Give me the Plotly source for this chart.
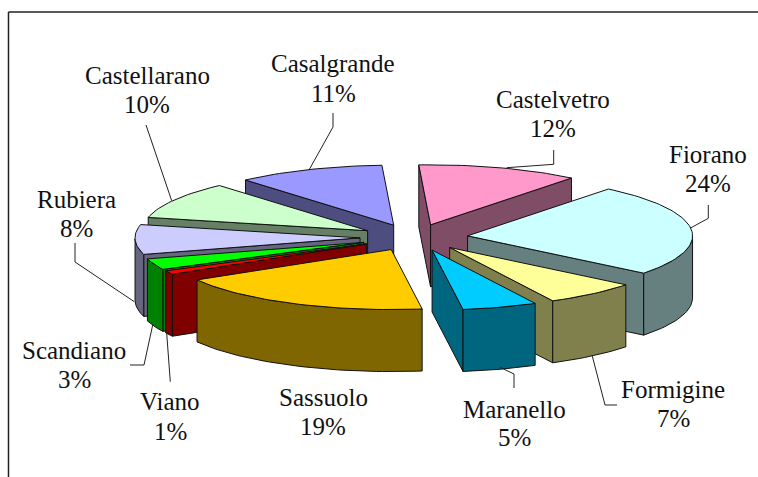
import math
import plotly.graph_objects as go

towns = ["Castelvetro", "Fiorano", "Formigine", "Maranello", "Sassuolo",
         "Viano", "Scandiano", "Rubiera", "Castellarano", "Casalgrande"]
shares = [11.6, 24.45, 6.6, 5.49, 19.25, 1.0, 3.0, 8.0, 10.0, 10.61]
top_colors = ["#FF99CC", "#CCFFFF", "#FFFF99", "#00CCFF", "#FFCC00",
              "#FF0000", "#00FF00", "#CCCCFF", "#CCFFCC", "#9999FF"]
side_colors = ["#804D66", "#667F7F", "#80804D", "#006680", "#806600",
               "#800000", "#008000", "#666680", "#668066", "#4D4D80"]

# label centres (x, name y, percent y)
label_pos = {
    "Castelvetro": (553, 100, 129), "Fiorano": (708, 155, 184),
    "Formigine": (673, 390, 419), "Maranello": (514, 410, 438),
    "Sassuolo": (323, 398, 427), "Viano": (170, 402, 432),
    "Scandiano": (74, 351, 380), "Rubiera": (76, 200, 229),
    "Castellarano": (147, 76, 105), "Casalgrande": (333, 64, 94),
}
leaders = [
    [(506.7, 167.7), (553.7, 164.3), (553.7, 150)],
    [(690, 228.3), (708.3, 218.3), (708.3, 205)],
    [(592, 355), (605, 405), (617, 405)],
    [(500, 367.3), (514, 374), (514, 388)],
    [(166.7, 333.3), (170.3, 381.7)],
    [(152.7, 325), (144, 365), (130, 365)],
    [(134.3, 301.7), (75, 262), (75, 243)],
    [(171.7, 200.7), (146, 125)],
    [(309, 170), (333, 127), (333, 113)],
]

CX, CY, RX, RY = 414, 237.5, 225, 60
EX, EY = 54, 13.3
DEPTH = 62
START = -3.0
OUT = "#111111"


def warp(deg):
    # slight perspective skew of the near right part of the rim
    return deg + 2.2 * math.exp(-(((deg % 360) - 150) / 45) ** 2)


def pt(deg, ox=0.0, oy=0.0):
    r = math.radians(warp(deg))
    return ox + RX * math.sin(r), oy - RY * math.cos(r)


fig = go.Figure()


def poly(points, color):
    xs = [p[0] for p in points] + [points[0][0]]
    ys = [p[1] for p in points] + [points[0][1]]
    fig.add_trace(go.Scatter(x=xs, y=ys, mode="lines", fill="toself", fillcolor=color,
                             line=dict(color=OUT, width=1), hoverinfo="skip", showlegend=False))


slices = []
a = START
for name, v, tc, sc in zip(towns, shares, top_colors, side_colors):
    sweep = v * 3.6
    slices.append((a, a + sweep, tc, sc))
    a += sweep

slices.sort(key=lambda s: -math.cos(math.radians((s[0] + s[1]) / 2)))

for a0, a1, tc, sc in slices:
    mid = math.radians((a0 + a1) / 2)
    ox = CX + EX * math.sin(mid)
    oy = CY - EY * math.cos(mid)
    n = max(2, int((a1 - a0) / 1.5))
    angs = [a0 + (a1 - a0) * i / n for i in range(n + 1)]
    arc = [pt(t, ox, oy) for t in angs]
    tip = (ox, oy)
    down = lambda p: (p[0], p[1] + DEPTH)
    # radial faces, visible when their edge runs leftwards on the clockwise outline
    if arc[0][0] < tip[0]:
        poly([tip, arc[0], down(arc[0]), down(tip)], sc)
    if tip[0] < arc[-1][0]:
        poly([arc[-1], tip, down(tip), down(arc[-1])], sc)
    # rim: the part of the arc facing the viewer
    vis = [(t, p) for t, p in zip(angs, arc) if 90 <= (t % 360) <= 270]
    if len(vis) >= 2:
        rim = [p for _, p in vis]
        poly(rim + [down(p) for p in reversed(rim)], sc)
    poly([tip] + arc, tc)

for seg in leaders:
    fig.add_trace(go.Scatter(x=[p[0] for p in seg], y=[p[1] for p in seg], mode="lines",
                             line=dict(color="#222222", width=1), hoverinfo="skip", showlegend=False))

annotations = []
for name, v in zip(towns, shares):
    x, y1, y2 = label_pos[name]
    for txt, y in ((name, y1), (f"{v:.0f}%", y2)):
        annotations.append(dict(x=x, y=y - 0.5, xref="x", yref="y", text=txt, showarrow=False,
                                xanchor="center", yanchor="middle",
                                font=dict(family="Liberation Serif", size=25, color="#111111")))

fig.update_layout(
    width=758, height=477, margin=dict(l=0, r=0, t=0, b=0),
    paper_bgcolor="white", plot_bgcolor="white", showlegend=False,
    xaxis=dict(range=[0, 758], visible=False, fixedrange=True),
    yaxis=dict(range=[477, 0], visible=False, fixedrange=True),
    annotations=annotations,
    shapes=[dict(type="line", xref="x", yref="y", x0=8.5, y0=477, x1=8.5, y1=12, line=dict(color="#222222", width=1.5)),
            dict(type="line", xref="x", yref="y", x0=8.5, y0=12, x1=758, y1=12, line=dict(color="#222222", width=1.5))],
)
fig.write_html("out.html", config={"displayModeBar": False},
               post_script="document.body.style.margin='0';document.documentElement.style.overflow='hidden';")
